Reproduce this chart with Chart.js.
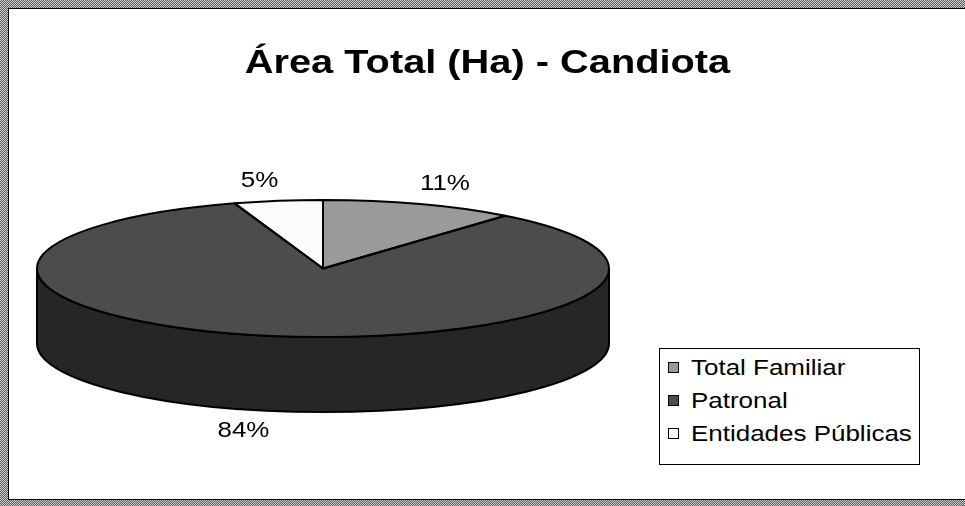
<!DOCTYPE html>
<html>
<head>
<meta charset="utf-8">
<script src="https://cdn.jsdelivr.net/npm/chart.js@4/dist/chart.umd.min.js"></script>
<style>
    body { margin: 0; background: #fff; }
    #wrap { position: relative; width: 965px; height: 506px; overflow: hidden; }
    /* checkered frame like the old spreadsheet export */
    #frame {
        position: absolute; left: 0; top: 0; right: -20px; bottom: 0;
        background: repeating-conic-gradient(#5a5a5a 0 25%, #d0d0d0 0 50%) 0 0 / 2px 2px;
    }
    #inner {
        position: absolute; left: 8px; top: 8px; right: 0; bottom: 6px;
        background: #fff; border-left: 1px solid #000; border-top: 1px solid #000; border-bottom: 1px solid #000;
    }
    #chart { position: absolute; left: 0; top: 0; }
    #title {
        position: absolute; left: 9px; width: 956px; top: 41px;
        text-align: center; font: bold 34px "Liberation Sans", Arial, sans-serif; line-height: 40px;
    }
    #title span { display: inline-block; transform: scaleX(1.17); }
    #legend {
        position: absolute; left: 659px; top: 348px; width: 259px; height: 113px;
        border: 1px solid #000; background: #fff; padding-top: 2px; box-sizing: content-box;
    }
    .legend-row { display: flex; align-items: center; height: 33px; padding-left: 8px; }
    .legend-box { width: 9px; height: 9px; border: 1px solid #000; }
    .legend-text {
        display: inline-block; margin-left: 12px; white-space: nowrap;
        font: 22px "Liberation Sans", Arial, sans-serif; transform: scaleX(1.18); transform-origin: left center;
    }
</style>
</head>
<body>
<div id="wrap">
    <div id="frame"><div id="inner"></div></div>
    <canvas id="chart" width="965" height="506"></canvas>
    <div id="title"><span>Área Total (Ha) - Candiota</span></div>
    <div id="legend"></div>
</div>
<script>
// Data (share of total area, %)
const categories = ["Total Familiar", "Patronal", "Entidades Públicas"];
const shares = [11, 84, 5];

// Styles
const sliceColors = ["#9a9a9a", "#4c4c4c", "#fbfbfb"];
const sideColors = ["#5c5c5c", "#262626", "#bdbdbd"];
const DEPTH = 75;       // height of the pie wall
const STRETCH = 1.18;   // text in the original is drawn a bit wide

// Fake 3D: squash the library's pie into the chart area ellipse and add a wall
const pie3d = {
    id: "pie3d",
    beforeDatasetsDraw(chart) {
        const ctx = chart.ctx;
        const area = chart.chartArea;
        const arcs = chart.getDatasetMeta(0).data;
        const cx = arcs[0].x, cy = arcs[0].y, r = arcs[0].outerRadius;
        const rx = area.width / 2, ry = area.height / 2;

        // front wall, only the part between 0 and PI faces us
        arcs.forEach((arc, i) => {
            const a = Math.max(arc.startAngle, 0);
            const b = Math.min(arc.endAngle, Math.PI);
            if (b <= a) return;
            ctx.beginPath();
            ctx.ellipse(cx, cy, rx, ry, 0, a, b);
            ctx.ellipse(cx, cy + DEPTH, rx, ry, 0, b, a, true);
            ctx.closePath();
            ctx.fillStyle = sideColors[i];
            ctx.fill();
            ctx.lineWidth = 2;
            ctx.strokeStyle = "#000";
            ctx.stroke();
        });

        ctx.save();
        ctx.translate(cx, cy);
        ctx.scale(rx / r, ry / r);
        ctx.translate(-cx, -cy);
    },
    afterDatasetsDraw(chart) {
        const ctx = chart.ctx;
        ctx.restore();
        const area = chart.chartArea;
        const arcs = chart.getDatasetMeta(0).data;
        const cx = arcs[0].x, cy = arcs[0].y;
        const rx = area.width / 2, ry = area.height / 2;

        // slice outlines on the top face
        ctx.lineWidth = 2;
        ctx.lineJoin = "round";
        ctx.strokeStyle = "#000";
        arcs.forEach(arc => {
            ctx.beginPath();
            ctx.moveTo(cx, cy);
            ctx.ellipse(cx, cy, rx, ry, 0, arc.startAngle, arc.endAngle);
            ctx.closePath();
            ctx.stroke();
        });

        // percentage labels outside each slice
        const total = shares.reduce((acc, v) => acc + v, 0);
        ctx.font = "22px 'Liberation Sans', Arial, sans-serif";
        ctx.textAlign = "center";
        ctx.textBaseline = "middle";
        ctx.fillStyle = "#000";
        arcs.forEach((arc, i) => {
            const mid = (arc.startAngle + arc.endAngle) / 2;
            const cos = Math.cos(mid), sin = Math.sin(mid);
            const text = Math.round(shares[i] / total * 100) + "%";
            const w = ctx.measureText(text).width * STRETCH;
            let x = cx + rx * cos + Math.sign(cos) * w / 2;
            let y = cy + ry * sin + Math.sign(sin) * 20;
            if (sin > 0) y += DEPTH;
            ctx.save();
            ctx.translate(x, y);
            ctx.scale(STRETCH, 1);
            ctx.fillText(text, 0, 0);
            ctx.restore();
        });
    }
};

new Chart(document.getElementById("chart"), {
    type: "pie",
    data: {
        labels: categories,
        datasets: [{
            data: shares,
            backgroundColor: sliceColors,
            borderWidth: 0,
            hoverOffset: 0
        }]
    },
    options: {
        responsive: false,
        animation: false,
        devicePixelRatio: 1,
        events: [],
        layout: { padding: { left: 37, right: 356, top: 200, bottom: 169 } },
        plugins: {
            legend: { display: false },
            title: { display: false },
            tooltip: { enabled: false }
        }
    },
    plugins: [pie3d]
});

// Legend built from the same arrays
const legend = document.getElementById("legend");
categories.forEach((name, i) => {
    const row = document.createElement("div");
    row.className = "legend-row";
    row.innerHTML = `<span class="legend-box" style="background:${sliceColors[i]}"></span><span class="legend-text">${name}</span>`;
    legend.appendChild(row);
});
</script>
</body>
</html>
